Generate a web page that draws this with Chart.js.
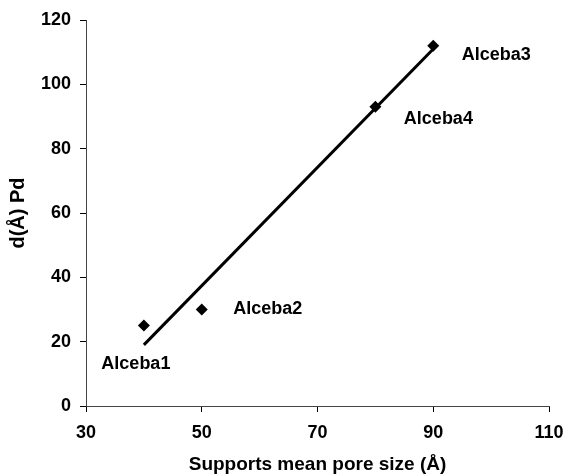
<!DOCTYPE html>
<html lang="en">
<head>
    <meta charset="UTF-8">
    <title>Pd particle size vs support pore size</title>
    <script src="https://cdn.jsdelivr.net/npm/chart.js"></script>
    <style>
        body { margin: 0; background: #fff; }
        #wrap { width: 567px; height: 476px; }
    </style>
</head>
<body>
    <div id="wrap"><canvas id="poreChart" width="567" height="476"></canvas></div>
    <script>
        // values
        const sampleNames = ['Alceba1', 'Alceba2', 'Alceba4', 'Alceba3'];
        const poreSize = [40, 50, 80, 90];
        const pdSize = [25, 30, 93, 112];
        const trendX = [40, 90];
        const trendY = [19, 111];
        const xTicks = [30, 50, 70, 90, 110];
        const yTicks = [0, 20, 40, 60, 80, 100, 120];

        const family = 'Liberation Sans, Arial, sans-serif';
        const font = { family: family, size: 18, weight: 'bold' };

        // label offsets from their point, in px
        const labelOffsets = {
            'Alceba1': [-8, 38],
            'Alceba2': [66, 0],
            'Alceba4': [63, 12],
            'Alceba3': [63, 9]
        };

        const pointLabels = {
            id: 'pointLabels',
            afterDatasetsDraw(chart) {
                const c = chart.ctx;
                const xs = chart.scales.x, ys = chart.scales.y;
                c.save();
                c.font = 'bold 18px ' + family;
                c.fillStyle = '#000';
                c.textAlign = 'center';
                c.textBaseline = 'middle';
                sampleNames.forEach((n, i) => {
                    const off = labelOffsets[n];
                    c.fillText(n, xs.getPixelForValue(poreSize[i]) + off[0], ys.getPixelForValue(pdSize[i]) + off[1]);
                });
                c.restore();
            }
        };

        const ctx = document.getElementById('poreChart').getContext('2d');
        new Chart(ctx, {
            type: 'scatter',
            data: {
                datasets: [{
                    label: 'Pd',
                    data: poreSize.map((x, i) => ({ x: x, y: pdSize[i] })),
                    pointStyle: 'rectRot',
                    pointRadius: 6,
                    backgroundColor: '#000',
                    borderColor: '#000',
                    borderWidth: 0
                }, {
                    label: 'trend',
                    type: 'line',
                    data: trendX.map((x, i) => ({ x: x, y: trendY[i] })),
                    borderColor: '#000',
                    borderWidth: 3,
                    pointRadius: 0,
                    fill: false
                }]
            },
            options: {
                responsive: false,
                animation: false,
                layout: { padding: { left: 0, right: 18, top: 20, bottom: 0 } },
                plugins: { legend: { display: false }, tooltip: { enabled: false } },
                scales: {
                    x: {
                        type: 'linear',
                        min: 30, max: 110,
                        afterBuildTicks: s => { s.ticks = xTicks.map(v => ({ value: v })); },
                        afterFit: s => { s.height = 70; s.paddingRight = 10; s.paddingLeft = 10; },
                        grid: { drawOnChartArea: false, drawTicks: true, tickLength: 6, color: '#000' },
                        border: { display: true, color: '#444', width: 1 },
                        ticks: { color: '#000', font: font, padding: 10, maxRotation: 0 },
                        title: { display: true, text: 'Supports mean pore size (Å)', color: '#000', font: { family: family, size: 19, weight: 'bold' }, padding: { top: 0, bottom: 0 } }
                    },
                    y: {
                        min: 0, max: 120,
                        afterBuildTicks: s => { s.ticks = yTicks.map(v => ({ value: v })); },
                        afterFit: s => { s.width = 86; },
                        grid: { drawOnChartArea: false, drawTicks: true, tickLength: 6, color: '#000' },
                        border: { display: true, color: '#444', width: 1 },
                        ticks: { color: '#000', font: font, padding: 9 },
                        title: { display: true, text: 'd(Å) Pd', color: '#000', font: { family: family, size: 20, weight: 'bold' }, padding: { top: 6, bottom: 0 } }
                    }
                }
            },
            plugins: [pointLabels]
        });
    </script>
</body>
</html>
